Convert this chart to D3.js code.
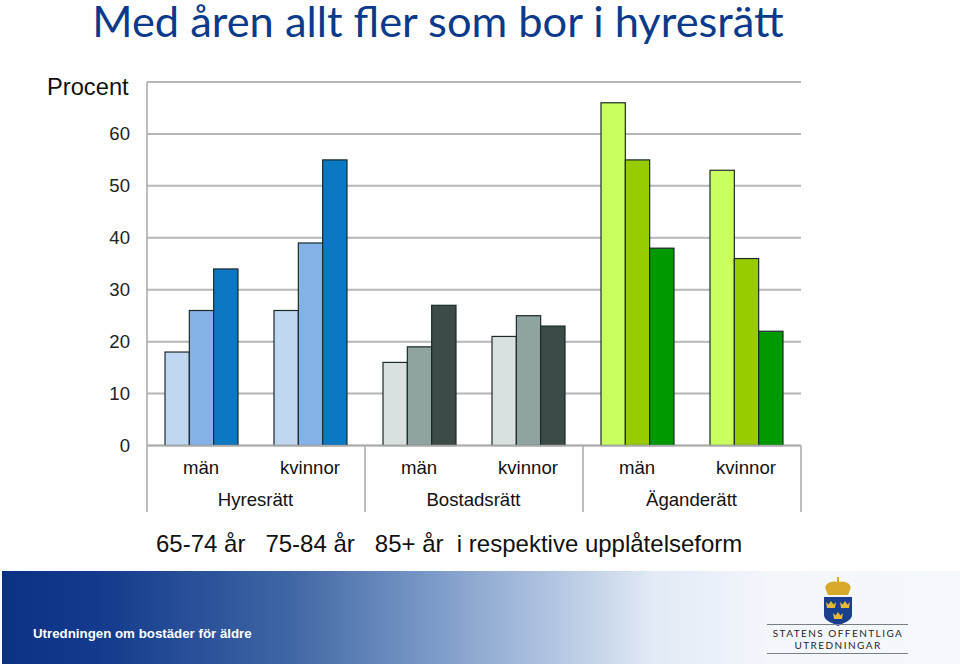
<!DOCTYPE html>
<html>
<head>
<meta charset="utf-8">
<script src="https://cdn.jsdelivr.net/npm/d3@7"></script>
<style>
html, body { margin: 0; padding: 0; background: #fff; }
svg { display: block; }
text { font-family: "Liberation Sans", Arial, sans-serif; fill: #111; }
</style>
</head>
<body>
<script>
//chart values
var forms = ["Hyresrätt", "Bostadsrätt", "Äganderätt"];
var sexes = ["män", "kvinnor"];
var ages = ["65-74 år", "75-84 år", "85+ år"];
var hyresMan = [18, 26, 34];
var hyresKvinna = [26, 39, 55];
var bostadMan = [16, 19, 27];
var bostadKvinna = [21, 25, 23];
var agandeMan = [66, 55, 38];
var agandeKvinna = [53, 36, 22];
var yTicks = [0, 10, 20, 30, 40, 50, 60, 70];

var blues = ["#c0d7f2", "#82b2e8", "#0a78c2"];
var grays = ["#d9e0e0", "#8fa3a1", "#3c4b48"];
var greens = ["#c9ff5e", "#99cc00", "#009900"];

var groups = [
    {form: 0, sex: 0, values: hyresMan, colors: blues},
    {form: 0, sex: 1, values: hyresKvinna, colors: blues},
    {form: 1, sex: 0, values: bostadMan, colors: grays},
    {form: 1, sex: 1, values: bostadKvinna, colors: grays},
    {form: 2, sex: 0, values: agandeMan, colors: greens},
    {form: 2, sex: 1, values: agandeKvinna, colors: greens}
];

var width = 960, height = 664;
var plot = {left: 147, right: 801, top: 82, bottom: 445.5};

var svg = d3.select("body").append("svg")
    .attr("width", width)
    .attr("height", height);

var defs = svg.append("defs");
var grad = defs.append("linearGradient").attr("id", "band");
[[0, "#0a3184"], [0.1, "#133a8c"], [0.3, "#3f66a4"], [0.45, "#7c9ac8"],
 [0.58, "#b4c7e2"], [0.68, "#e2eaf5"], [0.8, "#f3f6fb"], [1, "#f5f8fc"]].forEach(function(s){
    grad.append("stop").attr("offset", s[0]).attr("stop-color", s[1]);
});

//scales
var yScale = d3.scaleLinear().domain([0, 70]).range([plot.bottom, plot.top]);
var groupScale = d3.scaleBand().domain(d3.range(groups.length))
    .range([plot.left, plot.right]);
var barScale = d3.scaleBand().domain(ages)
    .range([0, groupScale.bandwidth()])
    .paddingInner(0).paddingOuter(0.74).align(0.5);
var formScale = d3.scaleBand().domain(forms).range([plot.left, plot.right]);

//title
svg.append("text")
    .attr("x", 438).attr("y", 37)
    .attr("text-anchor", "middle")
    .style("font-family", "Lato, sans-serif")
    .style("font-size", "43.4px")
    .style("fill", "#0b3a8a")
    .text("Med åren allt fler som bor i hyresrätt");

svg.append("text")
    .attr("x", 47).attr("y", 95)
    .style("font-size", "23.7px")
    .text("Procent");

//grid lines
svg.selectAll(".grid").data(yTicks).enter().append("line")
    .attr("class", "grid")
    .attr("x1", plot.left).attr("x2", plot.right)
    .attr("y1", yScale).attr("y2", yScale)
    .attr("stroke", "#b6b6b6").attr("stroke-width", 2);

//left axis
var yAxis = d3.axisLeft(yScale).tickValues(yTicks.slice(0, -1)).tickSize(0).tickPadding(17);
var axis = svg.append("g")
    .attr("transform", "translate(" + plot.left + ",0)")
    .call(yAxis);
axis.select(".domain").remove();
axis.selectAll("text").style("font-size", "18.6px").style("fill", "#222");

//bars
var bars = svg.selectAll(".group").data(groups).enter().append("g")
    .attr("class", "group")
    .attr("transform", function(d, i){ return "translate(" + groupScale(i) + ",0)"; });

bars.selectAll("rect").data(function(d){
        return d.values.map(function(v, i){ return {value: v, age: ages[i], color: d.colors[i]}; });
    })
    .enter().append("rect")
    .attr("x", function(d){ return barScale(d.age); })
    .attr("y", function(d){ return yScale(d.value); })
    .attr("width", barScale.bandwidth())
    .attr("height", function(d){ return plot.bottom - yScale(d.value); })
    .attr("fill", function(d){ return d.color; })
    .attr("stroke", "#1c2a2a")
    .attr("stroke-width", 1.2);

//baseline and separators on top of the bars
svg.append("line")
    .attr("x1", plot.left).attr("x2", plot.right)
    .attr("y1", plot.bottom).attr("y2", plot.bottom)
    .attr("stroke", "#a8a8a8").attr("stroke-width", 1.5);

svg.selectAll(".sep").data(d3.range(forms.length + 1)).enter().append("line")
    .attr("class", "sep")
    .attr("x1", function(i){ return plot.left + i * formScale.bandwidth(); })
    .attr("x2", function(i){ return plot.left + i * formScale.bandwidth(); })
    .attr("y1", plot.bottom).attr("y2", 512)
    .attr("stroke", "#a8a8a8").attr("stroke-width", 1.5);

svg.append("line")
    .attr("x1", plot.left).attr("x2", plot.left)
    .attr("y1", plot.top).attr("y2", plot.bottom)
    .attr("stroke", "#a8a8a8").attr("stroke-width", 1.5);

//category labels
svg.selectAll(".sex").data(groups).enter().append("text")
    .attr("class", "sex")
    .attr("x", function(d, i){ return groupScale(i) + groupScale.bandwidth() / 2 - 0.5; })
    .attr("y", 473.5)
    .attr("text-anchor", "middle")
    .style("font-size", "18.6px")
    .text(function(d){ return sexes[d.sex]; });

svg.selectAll(".form").data(forms).enter().append("text")
    .attr("class", "form")
    .attr("x", function(d){ return formScale(d) + formScale.bandwidth() / 2 - 0.5; })
    .attr("y", 506)
    .attr("text-anchor", "middle")
    .style("font-size", "18.6px")
    .text(function(d){ return d; });

//caption
svg.append("text")
    .attr("x", 156).attr("y", 552)
    .attr("xml:space", "preserve")
    .style("white-space", "pre")
    .style("font-size", "24px")
    .text(ages[0] + "   " + ages[1] + "   " + ages[2] + "  i respektive upplåtelseform");

//footer band
svg.append("rect")
    .attr("x", 2).attr("y", 571)
    .attr("width", 958).attr("height", 93)
    .attr("fill", "url(#band)");

svg.append("text")
    .attr("x", 33).attr("y", 638)
    .style("font-size", "13.3px")
    .style("font-weight", "bold")
    .style("fill", "#fff")
    .text("Utredningen om bostäder för äldre");

//logo
var logo = svg.append("g").attr("transform", "translate(838,0)");
logo.append("path")
    .attr("d", "M-10,595 L-12,590 C-15,584 -7,580 0,582 C7,580 15,584 12,590 L10,595 Z")
    .attr("fill", "#d8a92a");
logo.append("rect").attr("x", -1).attr("y", 577).attr("width", 2).attr("height", 6).attr("fill", "#d8a92a");
logo.append("path")
    .attr("d", "M-14,597 H14 V615 C14,621 5,623 0,626 C-5,623 -14,621 -14,615 Z")
    .attr("fill", "#1a3f8e");
[[-7, 605], [7, 605], [0, 616]].forEach(function(c){
    logo.append("path")
        .attr("d", "M" + (c[0] - 4) + "," + (c[1] + 3) + " l-1,-6 l2.5,2.5 l2.5,-3.5 l2.5,3.5 l2.5,-2.5 l-1,6 Z")
        .attr("fill", "#e3b93a");
});
[624.5, 653.5].forEach(function(y){
    svg.append("line")
        .attr("x1", 767).attr("x2", 908)
        .attr("y1", y).attr("y2", y)
        .attr("stroke", "#7a7f85").attr("stroke-width", 1.2);
});
svg.append("text")
    .attr("x", 838).attr("y", 636.5)
    .attr("text-anchor", "middle")
    .style("font-family", "Lato, sans-serif")
    .style("font-size", "10px")
    .style("letter-spacing", "1.45px")
    .style("fill", "#22262c")
    .text("STATENS OFFENTLIGA");
svg.append("text")
    .attr("x", 838).attr("y", 649)
    .attr("text-anchor", "middle")
    .style("font-family", "Lato, sans-serif")
    .style("font-size", "10px")
    .style("letter-spacing", "1.45px")
    .style("fill", "#22262c")
    .text("UTREDNINGAR");
</script>
</body>
</html>
